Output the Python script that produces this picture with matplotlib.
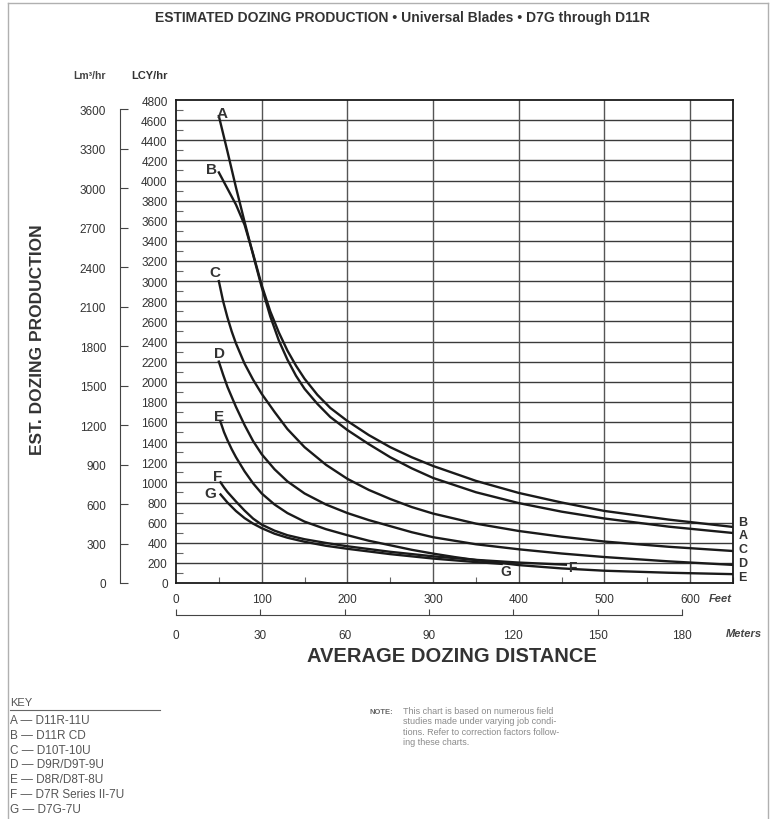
import matplotlib.pyplot as plt
from matplotlib.ticker import MultipleLocator
from matplotlib.lines import Line2D

plt.rcParams["font.family"] = ["Liberation Sans", "DejaVu Sans"]

# curve data: distance (ft) vs production (LCY/hr)
a_ft = [50, 60, 70, 80, 90, 100, 110, 120, 130, 140, 150, 165, 180, 200, 225, 250, 275, 300,
        350, 400, 450, 500, 575, 650]
a_lcy = [4640, 4290, 3930, 3590, 3260, 2940, 2650, 2410, 2220, 2060, 1930, 1780, 1650, 1520,
         1380, 1250, 1140, 1044, 902, 794, 709, 641, 560, 497]

b_ft = [50, 60, 70, 80, 90, 100, 110, 120, 130, 140, 150, 165, 180, 200, 225, 250, 275, 300,
        350, 400, 450, 500, 575, 650]
b_lcy = [4080, 3920, 3760, 3560, 3270, 2960, 2700, 2490, 2310, 2160, 2030, 1870, 1740, 1610,
         1470, 1350, 1250, 1163, 1015, 895, 800, 716, 630, 557]

c_ft = [50, 55, 60, 65, 70, 80, 90, 100, 115, 130, 150, 175, 200, 225, 250, 275, 300, 350,
        400, 450, 500, 575, 650]
c_lcy = [3000, 2800, 2640, 2500, 2380, 2180, 2020, 1880, 1700, 1530, 1350, 1175, 1035, 925,
         835, 755, 690, 590, 517, 460, 412, 360, 318]

d_ft = [50, 55, 60, 70, 80, 90, 100, 115, 130, 150, 175, 200, 225, 250, 275, 300, 350, 400,
        450, 500, 575, 650]
d_lcy = [2200, 2070, 1950, 1750, 1570, 1410, 1280, 1130, 1010, 890, 780, 695, 625, 565, 505,
         455, 385, 335, 293, 258, 215, 180]

e_ft = [52, 56, 60, 65, 70, 80, 90, 100, 115, 130, 150, 175, 200, 225, 250, 275, 300, 325,
        350, 400, 450, 500, 575, 650]
e_lcy = [1600, 1500, 1420, 1330, 1250, 1110, 990, 890, 780, 695, 610, 535, 475, 420, 375, 330,
         292, 258, 228, 178, 145, 122, 102, 88]

f_ft = [52, 56, 60, 70, 80, 90, 100, 115, 130, 150, 175, 200, 250, 300, 350, 400, 455]
f_lcy = [1000, 950, 905, 810, 720, 640, 580, 520, 475, 435, 398, 365, 310, 265, 230, 203, 182]

g_ft = [52, 56, 60, 70, 80, 90, 100, 115, 130, 150, 175, 200, 250, 300, 350, 380]
g_lcy = [880, 840, 800, 715, 645, 590, 545, 490, 450, 410, 370, 340, 287, 243, 208, 190]

curves = [
    ("A", a_ft, a_lcy),
    ("B", b_ft, b_lcy),
    ("C", c_ft, c_lcy),
    ("D", d_ft, d_lcy),
    ("E", e_ft, e_lcy),
    ("F", f_ft, f_lcy),
    ("G", g_ft, g_lcy),
]

key_lines = [
    "A \u2014 D11R-11U",
    "B \u2014 D11R CD",
    "C \u2014 D10T-10U",
    "D \u2014 D9R/D9T-9U",
    "E \u2014 D8R/D8T-8U",
    "F \u2014 D7R Series II-7U",
    "G \u2014 D7G-7U",
]

feet_ticks = [0, 100, 200, 300, 400, 500, 600]
meter_ticks = [0, 30, 60, 90, 120, 150, 180]
lcy_ticks = list(range(0, 4801, 200))
lm3_ticks = list(range(0, 3601, 300))

LCY_PER_M3 = 1.308
FT_PER_M = 3.2808

W, H = 774, 820
INK = "#1a1a1a"
GRID = "#3a3a3a"


def fx(px):
    return px / W


def fy(py):
    return 1 - py / H


fig = plt.figure(figsize=(W / 100, H / 100), dpi=100)

# page frame
for xs, ys in [((8, 8), (4, H)), ((8, 768), (4, 4)), ((768, 768), (4, H))]:
    fig.add_artist(Line2D([fx(x) for x in xs], [fy(y) for y in ys], color="#b0b0b0", lw=1))

x0, x1, y0, y1 = 176, 733, 584, 101
ax = fig.add_axes([fx(x0), fy(y0), fx(x1 - x0), (y0 - y1) / H])
ax.set_xlim(0, 650)
ax.set_ylim(0, 4800)

for v in lcy_ticks[1:-1]:
    ax.axhline(v, color=GRID, lw=1.0, zorder=1)
for v in feet_ticks[1:]:
    ax.axvline(v, color="#555555", lw=1.0, zorder=1)

for name, xs, ys in curves:
    ax.plot(xs, ys, color=INK, lw=1.7, zorder=3, solid_joinstyle="round")

for s in ax.spines.values():
    s.set_color(INK)
    s.set_linewidth(1.3)

ax.set_yticks(lcy_ticks)
ax.set_yticklabels([str(v) for v in lcy_ticks])
ax.yaxis.set_minor_locator(MultipleLocator(100))
ax.set_xticks(feet_ticks)
ax.set_xticklabels([str(v) for v in feet_ticks])
ax.xaxis.set_minor_locator(MultipleLocator(50))
ax.tick_params(axis="y", which="major", length=0, pad=6, labelsize=8.5, labelcolor="#333333")
ax.tick_params(axis="y", which="minor", direction="in", length=5, width=0.8, color="#666666")
ax.tick_params(axis="x", which="major", length=0, pad=7, labelsize=8.5, labelcolor="#333333")
ax.tick_params(axis="x", which="minor", direction="in", length=4, width=0.8, color="#666666")

# curve letters at the start of each curve
start_off = {"A": (4, -40), "B": (-8, -40), "C": (-5, 20), "D": (1, 15), "E": (-2, -10),
             "F": (-3, -5), "G": (-12, -60)}
for name, xs, ys in curves:
    dx, dy = start_off[name]
    ax.text(xs[0] + dx, ys[0] + dy, name, ha="center", va="bottom", fontsize=11,
            fontweight="bold", color="#333333")

# curve letters at the right end
end_names = ["B", "A", "C", "D", "E"]
for i, name in enumerate(end_names):
    ax.text(1.01, 0.127 - i * 0.0285, name, transform=ax.transAxes, ha="left", va="center",
            fontsize=9, fontweight="bold", color="#333333")
ax.text(f_ft[-1] + 8, f_lcy[-1] - 20, "F", ha="center", va="center", fontsize=10,
        fontweight="bold", color="#333333")
ax.text(g_ft[-1] + 5, g_lcy[-1] - 75, "G", ha="center", va="center", fontsize=10,
        fontweight="bold", color="#333333")

# metric production axis
lm = fig.add_axes([fx(120), fy(y0), 0.001, (y0 - y1) / H])
lm.set_ylim(0, 4800 / LCY_PER_M3)
lm.set_xticks([])
for k in ["top", "right", "bottom"]:
    lm.spines[k].set_visible(False)
lm.spines["left"].set_bounds(0, 3600)
lm.spines["left"].set_color("#444444")
lm.patch.set_visible(False)
lm.set_yticks(lm3_ticks)
lm.set_yticklabels([str(v) for v in lm3_ticks])
lm.tick_params(axis="y", direction="in", length=6, width=0.8, pad=10, labelsize=8.5,
               labelcolor="#333333", color="#444444")

# metric distance axis
mx = fig.add_axes([fx(x0), fy(616), fx(x1 - x0), 0.001])
mx.set_xlim(0, 650 / FT_PER_M)
mx.set_yticks([])
for k in ["top", "right", "left"]:
    mx.spines[k].set_visible(False)
mx.spines["bottom"].set_bounds(0, 180)
mx.spines["bottom"].set_color("#444444")
mx.patch.set_visible(False)
mx.set_xticks(meter_ticks)
mx.set_xticklabels([str(v) for v in meter_ticks])
mx.tick_params(axis="x", direction="in", length=4, width=0.8, pad=10, labelsize=8.5,
               labelcolor="#333333", color="#444444")

# texts
fig.text(fx(402), fy(18), "ESTIMATED DOZING PRODUCTION \u2022 Universal Blades \u2022 D7G through D11R",
         ha="center", va="center", fontsize=10, fontweight="bold", color="#333333")
fig.text(fx(90), fy(76), "Lm\u00b3/hr", ha="center", va="center", fontsize=7.5,
         fontweight="bold", color="#444444")
fig.text(fx(149), fy(76), "LCY/hr", ha="center", va="center", fontsize=8,
         fontweight="bold", color="#333333")
fig.text(fx(38), fy(340), "EST. DOZING PRODUCTION", rotation=90, ha="center", va="center",
         fontsize=12.5, fontweight="bold", color="#333333")
fig.text(fx(720), fy(599), "Feet", ha="center", va="center", fontsize=8,
         fontweight="bold", style="italic", color="#444444")
fig.text(fx(744), fy(634), "Meters", ha="center", va="center", fontsize=8,
         fontweight="bold", style="italic", color="#444444")
fig.text(fx(452), fy(657), "AVERAGE DOZING DISTANCE", ha="center", va="center",
         fontsize=14.5, fontweight="bold", color="#333333")

# key
fig.text(fx(10), fy(703), "KEY", ha="left", va="center", fontsize=8, color="#555555")
fig.add_artist(Line2D([fx(10), fx(160)], [fy(711), fy(711)], color="#666666", lw=0.8))
for i, line in enumerate(key_lines):
    fig.text(fx(10), fy(721 + i * 14.8), line, ha="left", va="center", fontsize=8.5,
             color="#555555")

# note
fig.text(fx(370), fy(713), "NOTE:", ha="left", va="center", fontsize=5.5,
         fontweight="bold", color="#666666")
note = ("This chart is based on numerous field\n"
        "studies made under varying job condi-\n"
        "tions. Refer to correction factors follow-\n"
        "ing these charts.")
fig.text(fx(403), fy(707), note, ha="left", va="top", fontsize=6.5, color="#8a8a8a",
         linespacing=1.2)

fig.savefig("out.png", dpi=100, facecolor="white")
